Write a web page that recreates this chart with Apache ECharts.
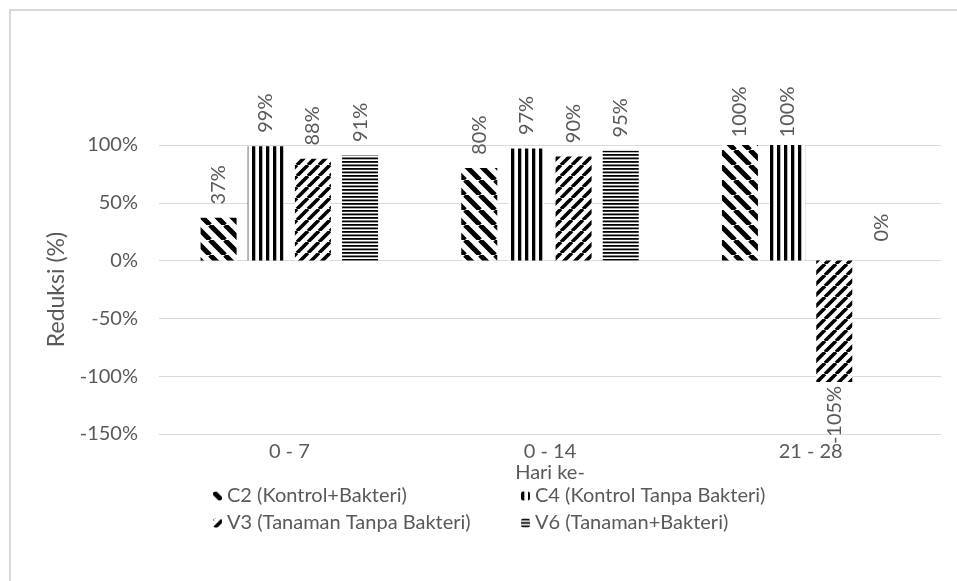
<!DOCTYPE html>
<html>
<head>
<meta charset="utf-8">
<script src="https://cdn.jsdelivr.net/npm/echarts@6/dist/echarts.min.js"></script>
<style>
  html, body { margin: 0; padding: 0; background: #fff; }
  #chart { width: 957px; height: 581px; }
</style>
</head>
<body>
<div id="chart"></div>
<script>
// Periods of observation (days)
const categories = ['0 - 7', '0 - 14', '21 - 28'];

// Reduction (%) per treatment
const seriesNames = [
  'C2 (Kontrol+Bakteri)',
  'C4 (Kontrol Tanpa Bakteri)',
  'V3 (Tanaman Tanpa Bakteri)',
  'V6 (Tanaman+Bakteri)'
];
const c2Values = [37, 80, 100];
const c4Values = [99, 97, 100];
const v3Values = [88, 90, -105];
const v6Values = [91, 95, 0];

// Y axis ticks
const yMin = -150;
const yMax = 100;
const yStep = 50;

const FONT = 'Lato, "Open Sans", sans-serif';
const TEXT = '#595959';

// Black-and-white hatch tiles used as bar fills
function hatch(kind) {
  const c = document.createElement('canvas');
  const g = c.getContext('2d');
  let w, h;
  if (kind === 'back' || kind === 'fwd') {
    const p = kind === 'back' ? 15 : 11;
    const lw = kind === 'back' ? 5 : 3.6;
    w = h = p;
    c.width = w; c.height = h;
    g.fillStyle = '#fff'; g.fillRect(0, 0, w, h);
    g.strokeStyle = '#000'; g.lineWidth = lw;
    g.beginPath();
    for (let k = -1; k <= 1; k++) {
      if (kind === 'back') { g.moveTo(k * p, 0); g.lineTo(k * p + p, p); }
      else { g.moveTo(k * p, p); g.lineTo(k * p + p, 0); }
    }
    g.stroke();
  } else if (kind === 'vert') {
    w = 7; h = 4;
    c.width = w; c.height = h;
    g.fillStyle = '#fff'; g.fillRect(0, 0, w, h);
    g.fillStyle = '#000'; g.fillRect(0, 0, 3.3, h);
  } else {
    w = 4; h = 7;
    c.width = w; c.height = h;
    g.fillStyle = '#fff'; g.fillRect(0, 0, w, h);
    g.fillStyle = '#000';
    g.fillRect(0, 0, w, 1.8);
    g.fillRect(0, 3.5, w, 1.8);
  }
  return { image: c, repeat: 'repeat' };
}

const fills = [hatch('back'), hatch('vert'), hatch('fwd'), hatch('horiz')];
const valueSets = [c2Values, c4Values, v3Values, v6Values];

function makeSeries(i) {
  return {
    name: seriesNames[i],
    type: 'bar',
    barWidth: 36,
    barGap: '31%',
    itemStyle: { color: fills[i] },
    label: {
      show: true,
      position: 'top',
      distance: 33,
      rotate: 90,
      align: 'center',
      verticalAlign: 'middle',
      color: TEXT,
      fontFamily: FONT,
      fontSize: 20,
      formatter: p => p.value + '%'
    },
    data: valueSets[i].map(v => v < 0 ? { value: v, label: { position: 'bottom' } } : v)
  };
}

const legendText = { color: TEXT, fontFamily: FONT, fontSize: 20 };

const chart = echarts.init(document.getElementById('chart'), null, { renderer: 'canvas' });
chart.setOption({
  animation: false,
  backgroundColor: '#fff',
  textStyle: { fontFamily: FONT },
  graphic: [{
    type: 'rect',
    shape: { x: 10, y: 10, width: 1000, height: 700 },
    style: { fill: 'none', stroke: '#d9d9d9', lineWidth: 2 },
    silent: true,
    z: -10
  }],
  grid: { left: 159, right: 16, top: 145, bottom: 147, outerBoundsMode: 'none' },
  xAxis: {
    type: 'category',
    data: categories,
    name: 'Hari ke-',
    nameLocation: 'middle',
    nameGap: 26,
    nameTextStyle: { color: TEXT, fontFamily: FONT, fontSize: 20 },
    axisLine: { show: false, onZero: false },
    axisTick: { show: false },
    axisLabel: { color: TEXT, fontFamily: FONT, fontSize: 20, margin: 8 }
  },
  yAxis: {
    type: 'value',
    min: yMin,
    max: yMax,
    interval: yStep,
    name: 'Reduksi (%)',
    nameLocation: 'middle',
    nameGap: 91,
    nameTextStyle: { color: TEXT, fontFamily: FONT, fontSize: 23 },
    axisLine: { show: false },
    axisTick: { show: false },
    axisLabel: { color: TEXT, fontFamily: FONT, fontSize: 20, margin: 21, formatter: v => v + '%' },
    splitLine: { lineStyle: { color: '#d9d9d9', width: 1 } }
  },
  legend: [
    {
      data: [seriesNames[0], seriesNames[2]],
      orient: 'vertical',
      left: 208, top: 481,
      itemWidth: 9, itemHeight: 9, itemGap: 7,
      textStyle: legendText
    },
    {
      data: [seriesNames[1], seriesNames[3]],
      orient: 'vertical',
      left: 516, top: 481,
      itemWidth: 9, itemHeight: 9, itemGap: 7,
      textStyle: legendText
    }
  ],
  series: [0, 1, 2, 3].map(makeSeries)
});
</script>
</body>
</html>
